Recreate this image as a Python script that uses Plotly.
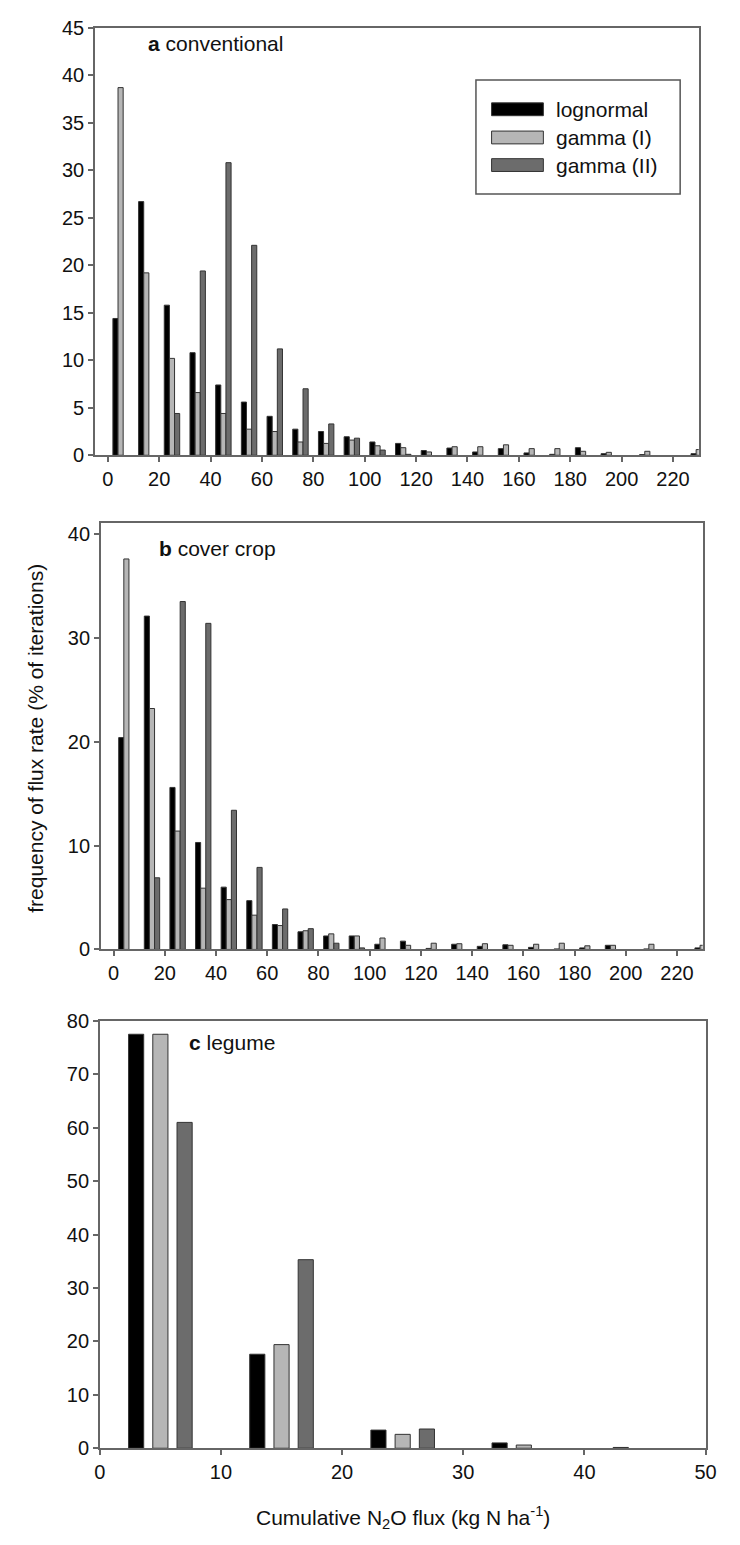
import plotly.graph_objects as go

# ---------------- data ----------------
series_names = ["lognormal", "gamma (I)", "gamma (II)"]

# bin centres (kg N ha-1) for panels a and b
bins_ab = [5, 15, 25, 35, 45, 55, 65, 75, 85, 95, 105, 115, 125, 135, 145, 155,
           165, 175, 185, 195, 210, 230]

a_lognormal = [14.4, 26.7, 15.8, 10.8, 7.4, 5.6, 4.1, 2.75, 2.5, 1.95, 1.4, 1.25,
               0.5, 0.76, 0.35, 0.7, 0.25, 0.1, 0.8, 0.17, 0.07, 0.17]
a_gamma1 = [38.7, 19.2, 10.2, 6.6, 4.4, 2.75, 2.5, 1.4, 1.25, 1.6, 1.0, 0.8,
            0.35, 0.9, 0.9, 1.1, 0.7, 0.7, 0.42, 0.31, 0.42, 0.6]
a_gamma2 = [0, 0, 4.4, 19.4, 30.8, 22.1, 11.2, 7.0, 3.3, 1.8, 0.55, 0.1,
            0, 0, 0, 0, 0, 0, 0, 0, 0, 0]

b_lognormal = [20.4, 32.1, 15.6, 10.3, 6.0, 4.7, 2.4, 1.7, 1.3, 1.3, 0.5, 0.8,
               0.1, 0.5, 0.3, 0.45, 0.2, 0.05, 0.15, 0.4, 0.05, 0.15]
b_gamma1 = [37.6, 23.2, 11.4, 5.9, 4.8, 3.3, 2.3, 1.8, 1.5, 1.3, 1.1, 0.4,
            0.6, 0.55, 0.55, 0.4, 0.5, 0.6, 0.35, 0.4, 0.5, 0.4]
b_gamma2 = [0, 6.9, 33.5, 31.4, 13.4, 7.9, 3.9, 2.0, 0.6, 0.15, 0, 0,
            0, 0, 0, 0, 0, 0, 0, 0, 0, 0]

bins_c = [5, 15, 25, 35, 45]
c_lognormal = [77.5, 17.6, 3.4, 1.0, 0.15]
c_gamma1 = [77.5, 19.4, 2.6, 0.6, 0]
c_gamma2 = [61.0, 35.3, 3.6, 0, 0]

ticks_ab = list(range(0, 221, 20))
yticks_a = list(range(0, 46, 5))
yticks_b = list(range(0, 41, 10))
ticks_c = list(range(0, 51, 10))
yticks_c = list(range(0, 81, 10))

# ---------------- style ----------------
W, H = 740, 1545
FONT = "Liberation Sans, Arial, Helvetica, sans-serif"
COLORS = ["#000000", "#b6b6b6", "#6c6c6c"]
OUTLINE = "#333333"
AXCOL = "#666666"


def px(x):
    return x / W


def py(y):
    return 1 - y / H


fig = go.Figure()

panels = [
    ("x", "y", bins_ab, [a_lognormal, a_gamma1, a_gamma2], 2.0, [-3, -1, 1]),
    ("x2", "y2", bins_ab, [b_lognormal, b_gamma1, b_gamma2], 2.0, [-3, -1, 1]),
    ("x3", "y3", bins_c, [c_lognormal, c_gamma1, c_gamma2], 1.25, [-2.625, -0.625, 1.375]),
]

for xa, ya, bins, vals, w, offs in panels:
    for name, v, col, off in zip(series_names, vals, COLORS, offs):
        # empty bins are left blank (no zero-height outline)
        yv = [val if val > 0 else None for val in v]
        fig.add_trace(go.Bar(
            x=bins, y=yv, name=name, xaxis=xa, yaxis=ya,
            width=w, offset=off,
            marker=dict(color=col, line=dict(color=OUTLINE, width=1)),
            showlegend=False,
        ))

axis_common = dict(
    showline=True, mirror=True, linecolor=AXCOL, linewidth=1.5,
    ticks="outside", ticklen=5, tickwidth=1.5, tickcolor=AXCOL,
    showgrid=False, zeroline=False,
    tickfont=dict(family=FONT, size=20, color="#111111"),
)

fig.update_layout(
    width=W, height=H,
    margin=dict(l=0, r=0, t=0, b=0),
    paper_bgcolor="white", plot_bgcolor="white",
    barmode="overlay",
    font=dict(family=FONT, size=20, color="#111111"),
    xaxis=dict(domain=[px(91), px(709)], range=[-5, 230], tickvals=ticks_ab,
               anchor="y", **axis_common),
    yaxis=dict(domain=[py(450.7), py(17)], range=[0, 45], tickvals=yticks_a,
               anchor="x", **axis_common),
    xaxis2=dict(domain=[px(97), px(713)], range=[-5, 230], tickvals=ticks_ab,
                anchor="y2", **axis_common),
    yaxis2=dict(domain=[py(952), py(519)], range=[0, 41.1], tickvals=yticks_b,
                anchor="x2", **axis_common),
    xaxis3=dict(domain=[px(96), px(716)], range=[0, 50], tickvals=ticks_c,
                anchor="y3", **axis_common),
    yaxis3=dict(domain=[py(1458), py(1024.5)], range=[0, 80], tickvals=yticks_c,
                anchor="x3", **axis_common),
)

annotations = [
    dict(text="<b>a</b> conventional", x=px(143), y=py(33)),
    dict(text="<b>b</b> cover crop", x=px(155), y=py(545)),
    dict(text="<b>c</b> legume", x=px(185), y=py(1046)),
]
for a in annotations:
    fig.add_annotation(xref="paper", yref="paper", xanchor="left", yanchor="middle",
                       showarrow=False, font=dict(family=FONT, size=21, color="#111111"), **a)

fig.add_annotation(xref="paper", yref="paper", x=px(30), y=py(738),
                   text="frequency of flux rate (% of iterations)", textangle=-90,
                   showarrow=False, xanchor="center", yanchor="middle",
                   font=dict(family=FONT, size=21, color="#111111"))
fig.add_annotation(xref="paper", yref="paper", x=px(406), y=py(1528),
                   text="Cumulative N<sub>2</sub>O flux (kg N ha<sup>-1</sup>)",
                   showarrow=False, xanchor="center", yanchor="middle",
                   font=dict(family=FONT, size=21, color="#111111"))

# legend (drawn as a framed box inside panel a)
fig.add_shape(type="rect", xref="paper", yref="paper",
              x0=px(481), x1=px(690), y0=py(185.7), y1=py(70),
              line=dict(color="#555555", width=1.5), fillcolor="white")
row_y = [99.7, 128.3, 156.3]
for name, col, yc in zip(series_names, COLORS, row_y):
    fig.add_shape(type="rect", xref="paper", yref="paper",
                  x0=px(497), x1=px(550), y0=py(yc + 6.5), y1=py(yc - 6.5),
                  line=dict(color=OUTLINE, width=1), fillcolor=col)
    fig.add_annotation(xref="paper", yref="paper", x=px(561), y=py(yc), text=name,
                       showarrow=False, xanchor="left", yanchor="middle",
                       font=dict(family=FONT, size=21, color="#111111"))

fig.write_html("out.html")
